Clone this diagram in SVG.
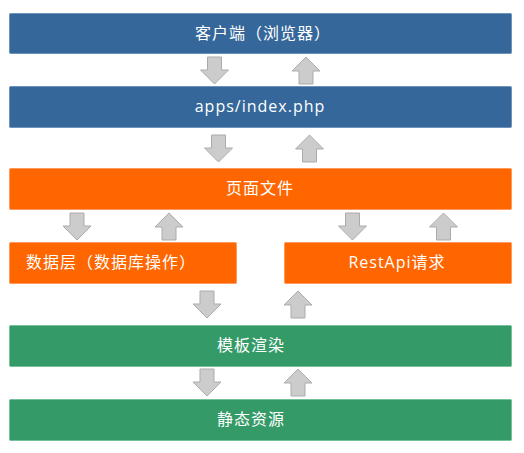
<svg xmlns="http://www.w3.org/2000/svg" width="524" height="453" viewBox="0 0 524 453">
<style>
.box{stroke-width:1}
.blue{fill:#35679A;stroke:#6E93BA}
.orange{fill:#FF6600;stroke:#FF9A5A}
.green{fill:#349A67;stroke:#76C09A}
.lbl{font-family:"Open Sans","Noto Sans CJK SC",sans-serif;font-size:16px;fill:#FFFFFF;text-anchor:middle;letter-spacing:1px;text-spacing-trim:space-all}
.arr{fill:#CCCCCC;stroke:#ABABAB;stroke-width:1}
</style>
<defs>
<path id="down" d="M-7,0 H7 V13 H14 L0,27 L-14,13 H-7 Z"/>
<path id="up" d="M-7,27 H7 V14 H14 L0,0 L-14,14 H-7 Z"/>
</defs>
<rect width="524" height="453" fill="#FFFFFF"/>
<g id="connectors">
<use href="#down" class="arr" x="214.5" y="57"/>
<use href="#up" class="arr" x="306" y="57"/>
<use href="#down" class="arr" x="218.5" y="135"/>
<use href="#up" class="arr" x="309.5" y="135"/>
<use href="#down" class="arr" x="77" y="213"/>
<use href="#up" class="arr" x="169" y="213"/>
<use href="#down" class="arr" x="352.5" y="213"/>
<use href="#up" class="arr" x="443.5" y="213"/>
<use href="#down" class="arr" x="207" y="291"/>
<use href="#up" class="arr" x="298" y="291"/>
<use href="#down" class="arr" x="207" y="369"/>
<use href="#up" class="arr" x="298" y="369"/>
</g>
<g id="client">
<rect class="box blue" x="9.5" y="13.5" width="502" height="40" rx="1"/>
<text class="lbl" x="263" y="39">客户端（浏览器）</text>
</g>
<g id="index">
<rect class="box blue" x="9.5" y="86.5" width="502" height="41" rx="1"/>
<text class="lbl" x="260" y="112">apps/index.php</text>
</g>
<g id="page">
<rect class="box orange" x="9.5" y="168.5" width="502" height="41" rx="1"/>
<text class="lbl" x="260" y="194">页面文件</text>
</g>
<g id="data">
<rect class="box orange" x="9.5" y="242.5" width="227" height="41" rx="1"/>
<text class="lbl" x="26" y="268" style="text-anchor:start">数据层（数据库操作）</text>
</g>
<g id="rest">
<rect class="box orange" x="284.5" y="242.5" width="227" height="41" rx="1"/>
<text class="lbl" x="397" y="268">RestApi请求</text>
</g>
<g id="render">
<rect class="box green" x="9.5" y="325.5" width="502" height="41" rx="1"/>
<text class="lbl" x="251" y="351">模板渲染</text>
</g>
<g id="static">
<rect class="box green" x="9.5" y="399.5" width="502" height="41" rx="1"/>
<text class="lbl" x="251" y="425">静态资源</text>
</g>
</svg>
